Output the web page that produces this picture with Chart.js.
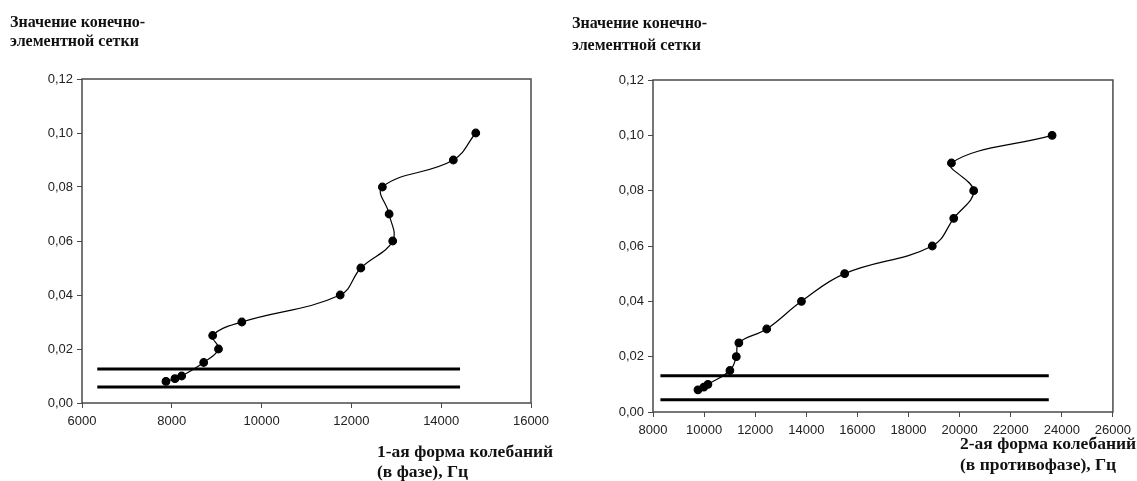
<!DOCTYPE html>
<html lang="ru">
<head>
  <meta charset="UTF-8" />
  <title>Сходимость по сетке</title>
  <script src="https://cdn.jsdelivr.net/npm/chart.js"></script>
  <style>
    html, body { margin: 0; padding: 0; background: #fff; }
    body { width: 1137px; height: 481px; position: relative; overflow: hidden; }
    .box { position: absolute; top: 0; height: 481px; }
    .cap {
      position: absolute;
      font-family: "Liberation Serif", "Times New Roman", serif;
      font-weight: bold;
      color: #111;
      white-space: nowrap;
    }
    .ytitle { font-size: 16px; }
    .xtitle { font-size: 17.5px; }
  </style>
</head>
<body>

  <div class="box" style="left:0; width:565px;"><canvas id="chart1"></canvas></div>
  <div class="box" style="left:565px; width:572px;"><canvas id="chart2"></canvas></div>

  <div class="cap ytitle" style="left:10px; top:12px; line-height:19px;">Значение конечно-<br>элементной сетки</div>
  <div class="cap xtitle" style="left:377px; top:441px; line-height:20px;">1-ая форма колебаний<br>(в фазе), Гц</div>

  <div class="cap ytitle" style="left:572px; top:12px; line-height:22px;">Значение конечно-<br>элементной сетки</div>
  <div class="cap xtitle" style="left:960px; top:433px; line-height:21px;">2-ая форма колебаний<br>(в противофазе), Гц</div>

  <script>
    // значение сетки (ось Y) - общее для обоих графиков
    const mesh = [0.008, 0.009, 0.010, 0.015, 0.020, 0.025, 0.030, 0.040, 0.050, 0.060, 0.070, 0.080, 0.090, 0.100];

    // 1-ая форма колебаний (в фазе), Гц
    const freq1 = [7870, 8070, 8220, 8710, 9040, 8910, 9560, 11750, 12210, 12920, 12840, 12690, 14270, 14770];
    // 2-ая форма колебаний (в противофазе), Гц
    const freq2 = [9760, 9990, 10150, 11010, 11260, 11360, 12450, 13810, 15500, 18930, 19770, 20550, 19680, 23620];

    // горизонтальные линии (уровни и диапазон по X)
    const levels1 = [0.0126, 0.0059];
    const span1 = [6340, 14420];
    const levels2 = [0.0131, 0.0044];
    const span2 = [8290, 23490];

    // оси
    const xAxis1 = { min: 6000, max: 16000, step: 2000 };
    const xAxis2 = { min: 8000, max: 26000, step: 2000 };
    const yAxis = { min: 0, max: 0.12, step: 0.02 };

    const axisColor = "#4a4a4a";
    const tickFont = { family: "'Liberation Sans', Arial, sans-serif", size: 13 };

    // рамка вокруг области графика
    const frame = {
      id: "frame",
      afterDraw(chart) {
        const a = chart.chartArea;
        const c = chart.ctx;
        c.save();
        c.strokeStyle = axisColor;
        c.lineWidth = 1.5;
        c.strokeRect(a.left, a.top, a.right - a.left, a.bottom - a.top);
        c.restore();
      }
    };

    function makeChart(id, freq, levels, span, xr, pad) {
      const hLines = levels.map(function (lv) {
        return {
          data: [{ x: span[0], y: lv }, { x: span[1], y: lv }],
          borderColor: "#000",
          borderWidth: 3,
          pointRadius: 0,
          showLine: true,
          tension: 0
        };
      });

      return new Chart(document.getElementById(id), {
        type: "scatter",
        data: {
          datasets: [
            {
              data: freq.map(function (f, i) { return { x: f, y: mesh[i] }; }),
              showLine: true,
              tension: 0.4,
              borderColor: "#000",
              borderWidth: 1.2,
              pointRadius: 3.8,
              pointBackgroundColor: "#000",
              pointBorderColor: "#000"
            }
          ].concat(hLines)
        },
        options: {
          responsive: true,
          maintainAspectRatio: false,
          animation: false,
          layout: { padding: pad },
          plugins: { legend: { display: false }, tooltip: { enabled: false } },
          scales: {
            x: {
              type: "linear",
              min: xr.min,
              max: xr.max,
              afterFit(scale) { scale.height = 30; },
              ticks: {
                stepSize: xr.step,
                color: "#222",
                padding: 6,
                font: tickFont,
                callback: function (v) { return String(v); }
              },
              grid: { drawOnChartArea: false, drawTicks: true, tickLength: 5, color: axisColor },
              border: { display: false }
            },
            y: {
              min: yAxis.min,
              max: yAxis.max,
              afterFit(scale) { scale.width = 50; },
              ticks: {
                stepSize: yAxis.step,
                color: "#222",
                padding: 4,
                font: tickFont,
                callback: function (v) { return v.toFixed(2).replace(".", ","); }
              },
              grid: { drawOnChartArea: false, drawTicks: true, tickLength: 5, color: axisColor },
              border: { display: false }
            }
          }
        },
        plugins: [frame]
      });
    }

    makeChart("chart1", freq1, levels1, span1, xAxis1, { left: 32, top: 79, right: 34, bottom: 48 });
    makeChart("chart2", freq2, levels2, span2, xAxis2, { left: 38, top: 80, right: 23, bottom: 39 });
  </script>
</body>
</html>
